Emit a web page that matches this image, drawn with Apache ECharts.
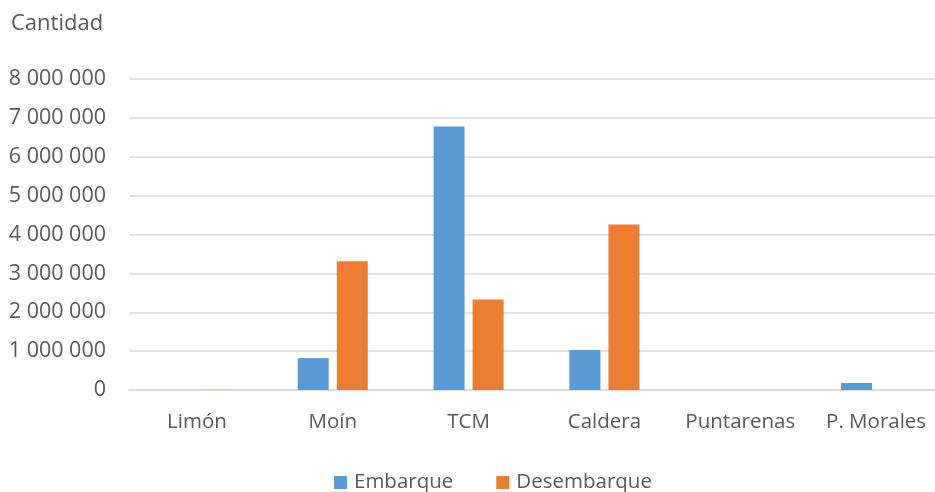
<!DOCTYPE html>
<html><head><meta charset="utf-8">
<script src="https://cdn.jsdelivr.net/npm/echarts@6/dist/echarts.min.js"></script>
<style>html,body{margin:0;padding:0;background:#fff}#c{width:935px;height:492px}</style>
</head><body><div id="c"></div>
<script>
var categories = ['Limón', 'Moín', 'TCM', 'Caldera', 'Puntarenas', 'P. Morales'];
var embarque = [0, 820000, 6780000, 1030000, 0, 180000];
var desembarque = [5000, 3310000, 2330000, 4260000, 0, 0];
var seriesNames = ['Embarque', 'Desembarque'];
var yTitle = 'Cantidad';

var font = '"Open Sans", sans-serif';
var txt = '#595959';
var chart = echarts.init(document.getElementById('c'), null, {renderer: 'canvas'});
chart.setOption({
  animation: false,
  title: {text: yTitle, left: 6, top: 8, textStyle: {fontFamily: font, fontSize: 22, fontWeight: 'normal', color: txt}},
  legend: {
    data: seriesNames, top: 467, left: 329, itemWidth: 13, itemHeight: 13, itemGap: 43,
    icon: 'rect', textStyle: {fontFamily: font, fontSize: 20.5, color: txt, padding: [0, 0, 0, 2]}
  },
  grid: {left: 129, width: 815, top: 79, height: 311, containLabel: false, outerBoundsMode: 'none'},
  xAxis: {
    type: 'category', data: categories,
    axisLine: {lineStyle: {color: '#d9d9d9', width: 1.5}},
    axisTick: {show: false},
    axisLabel: {fontFamily: font, fontSize: 20.5, color: txt, margin: 22, interval: 0}
  },
  yAxis: {
    type: 'value', min: 0, max: 8000000, interval: 1000000,
    axisLine: {show: false}, axisTick: {show: false},
    splitLine: {lineStyle: {color: '#d9d9d9', width: 1.5}},
    axisLabel: {fontFamily: font, fontSize: 21.5, color: txt, margin: 23,
      formatter: function (v) { return String(v).replace(/\B(?=(\d{3})+(?!\d))/g, ' '); }}
  },
  series: [
    {name: seriesNames[0], type: 'bar', data: embarque, barWidth: 31, barGap: '26%',
     itemStyle: {color: '#5B9BD5'}},
    {name: seriesNames[1], type: 'bar', data: desembarque, barWidth: 31,
     itemStyle: {color: '#ED7D31'}}
  ]
});
</script></body></html>
